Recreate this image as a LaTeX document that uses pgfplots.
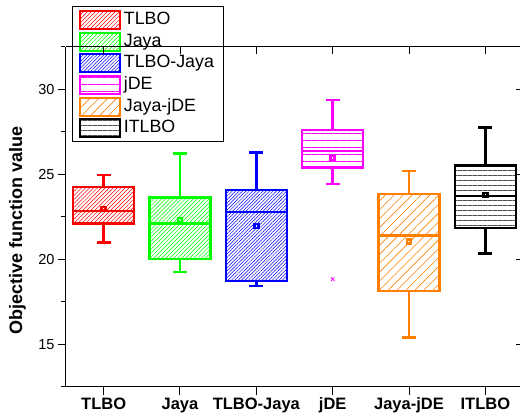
\documentclass[border=0pt]{standalone}
\usepackage{fontspec}
\setmainfont{Liberation Sans}
\usepackage{pgfplots}
\pgfplotsset{compat=1.18}
\usepgfplotslibrary{statistics}
\usetikzlibrary{patterns.meta}

\definecolor{cred}{RGB}{255,0,0}
\definecolor{cgreen}{RGB}{0,255,0}
\definecolor{cblue}{RGB}{0,0,255}
\definecolor{cmag}{RGB}{255,0,255}
\definecolor{corange}{RGB}{255,128,0}

\tikzset{
  sTLBO/.style={draw=cred, pattern={Lines[angle=45,distance=2.8bp,line width=0.5bp]}, pattern color=cred},
  sJaya/.style={draw=cgreen, pattern={Lines[angle=45,distance=2.8bp,line width=0.5bp]}, pattern color=cgreen},
  sTJ/.style={draw=cblue, pattern={Lines[angle=45,distance=2.4bp,line width=0.5bp]}, pattern color=cblue},
  sjDE/.style={draw=cmag, pattern={Lines[angle=0,distance=7bp,line width=0.6bp]}, pattern color=cmag},
  sJjDE/.style={draw=corange, pattern={Lines[angle=45,distance=6.3bp,line width=0.6bp]}, pattern color=corange},
  sITLBO/.style={draw=black, pattern={Lines[angle=0,distance=5bp,line width=0.4bp]}, pattern color=black!70},
}

\pgfplotsset{
  thickbox/.style={
    boxplot/draw/lower whisker/.code={%
      \draw[line width=2.4bp]
        (boxplot cs:\pgfplotsboxplotvalue{lower quartile}) --
        (boxplot cs:\pgfplotsboxplotvalue{lower whisker})
        (boxplot whisker cs:\pgfplotsboxplotvalue{lower whisker},0) --
        (boxplot whisker cs:\pgfplotsboxplotvalue{lower whisker},1);},
    boxplot/draw/upper whisker/.code={%
      \draw[line width=2.4bp]
        (boxplot cs:\pgfplotsboxplotvalue{upper quartile}) --
        (boxplot cs:\pgfplotsboxplotvalue{upper whisker})
        (boxplot whisker cs:\pgfplotsboxplotvalue{upper whisker},0) --
        (boxplot whisker cs:\pgfplotsboxplotvalue{upper whisker},1);},
    boxplot/draw/median/.code={%
      \draw[line width=2.4bp]
        (boxplot box cs:\pgfplotsboxplotvalue{median},0) --
        (boxplot box cs:\pgfplotsboxplotvalue{median},1);},
  },
}

\begin{document}
\begin{tikzpicture}
\pgfplotsset{
  myaxis/.style={width=458bp, height=340bp, scale only axis,
    xmin=0.5, xmax=6.5, ymin=12.5, ymax=32.5,
    axis line style={-, line width=1bp, black},
    every tick/.style={black, line width=1bp},
    major tick length=7.5bp, minor tick length=4bp,
    xtick={1,2,3,4,5,6},
    ytick={15,20,25,30}, minor ytick={12.5,17.5,22.5,27.5,32.5},
  },
}
\begin{axis}[myaxis, name=ax,
  axis x line*=bottom, axis y line*=left,
  tick align=outside,
  boxplot/draw direction=y,
  xticklabels={TLBO,Jaya,TLBO-Jaya,jDE,Jaya-jDE,ITLBO},
  /pgf/number format/assume math mode=true,
  xticklabel style={font=\bfseries\fontsize{16.5bp}{18bp}\selectfont},
  yticklabel style={font=\fontsize{14.5bp}{16bp}\selectfont},
  ylabel={Objective function value},
  ylabel style={font=\bfseries\fontsize{18bp}{20bp}\selectfont, at={(rel axis cs:-0.1048,0.46)}, anchor=center},
  boxplot/every average/.style={/tikz/mark=square, /tikz/mark size=2bp, /tikz/line width=0.7bp, /tikz/solid},
  legend style={at={(0,1)}, anchor=north west, xshift=6.5bp, yshift=41bp,
    draw=black, line width=0.8bp, fill=white,
    font=\fontsize{17.8bp}{20bp}\selectfont,
    inner xsep=6.5bp, inner ysep=3.5bp, row sep=1.7bp,
    nodes={inner xsep=3bp, inner ysep=1.5bp, text height=13bp, text depth=4bp},
    /tikz/every even column/.append style={column sep=3bp}},
  legend cell align=left,
]
\addplot[forget plot, draw=cred, line width=2.4bp, mark=none, thickbox,
  boxplot/every box/.style={sTLBO, line width=2.4bp},
  boxplot prepared={draw position=1, lower whisker=21.0, lower quartile=22.12, median=22.84,
    upper quartile=24.27, upper whisker=24.96, average=22.96, box extend=0.8, whisker extend=0.18}]
  coordinates {};
\addplot[forget plot, draw=cgreen, line width=2.4bp, mark=none, thickbox,
  boxplot/every box/.style={sJaya, line width=2.4bp},
  boxplot prepared={draw position=2, lower whisker=19.27, lower quartile=20.02, median=22.12,
    upper quartile=23.65, upper whisker=26.23, average=22.31, box extend=0.8, whisker extend=0.18}]
  coordinates {};
\addplot[forget plot, draw=cblue, line width=2.4bp, mark=none, thickbox,
  boxplot/every box/.style={sTJ, line width=2.4bp},
  boxplot prepared={draw position=3, lower whisker=18.43, lower quartile=18.74, median=22.78,
    upper quartile=24.08, upper whisker=26.29, average=21.98, box extend=0.8, whisker extend=0.18}]
  coordinates {};
\addplot[forget plot, draw=cmag, line width=2.4bp, mark=x, mark size=2.5bp, mark options={line width=0.8bp}, thickbox,
  boxplot/every box/.style={sjDE, line width=2.4bp},
  boxplot prepared={draw position=4, lower whisker=24.43, lower quartile=25.41, median=26.37,
    upper quartile=27.61, upper whisker=29.37, average=25.96, box extend=0.8, whisker extend=0.18}]
  coordinates {(4,18.84)};
\addplot[forget plot, draw=corange, line width=2.4bp, mark=none, thickbox,
  boxplot/every box/.style={sJjDE, line width=2.4bp},
  boxplot prepared={draw position=5, lower whisker=15.41, lower quartile=18.14, median=21.41,
    upper quartile=23.86, upper whisker=25.21, average=21.06, box extend=0.8, whisker extend=0.18}]
  coordinates {};
\addplot[forget plot, draw=black, line width=2.4bp, mark=none, thickbox,
  boxplot/every box/.style={sITLBO, line width=2.4bp},
  boxplot prepared={draw position=6, lower whisker=20.35, lower quartile=21.84, median=23.72,
    upper quartile=25.53, upper whisker=27.76, average=23.80, box extend=0.8, whisker extend=0.18}]
  coordinates {};

\addlegendimage{legend image code/.code={\draw[sTLBO, line width=2bp] (0bp,-9bp) rectangle (40bp,9bp);}}
\addlegendentry{TLBO}
\addlegendimage{legend image code/.code={\draw[sJaya, line width=2bp] (0bp,-9bp) rectangle (40bp,9bp);}}
\addlegendentry{Jaya}
\addlegendimage{legend image code/.code={\draw[sTJ, line width=2bp] (0bp,-9bp) rectangle (40bp,9bp);}}
\addlegendentry{TLBO-Jaya}
\addlegendimage{legend image code/.code={\draw[sjDE, line width=2bp] (0bp,-9bp) rectangle (40bp,9bp);}}
\addlegendentry{jDE}
\addlegendimage{legend image code/.code={\draw[sJjDE, line width=2bp] (0bp,-9bp) rectangle (40bp,9bp);}}
\addlegendentry{Jaya-jDE}
\addlegendimage{legend image code/.code={\draw[sITLBO, line width=2bp] (0bp,-9bp) rectangle (40bp,9bp);}}
\addlegendentry{ITLBO}
\end{axis}
\begin{axis}[myaxis,
  axis x line*=top, axis y line*=right,
  tick align=inside,
  xticklabels={}, yticklabels={},
]
\end{axis}
\pgfresetboundingbox
\path[use as bounding box] (ax.south west) ++(-65.5bp,-33bp) rectangle ++(520bp,420bp);
\end{tikzpicture}
\end{document}
